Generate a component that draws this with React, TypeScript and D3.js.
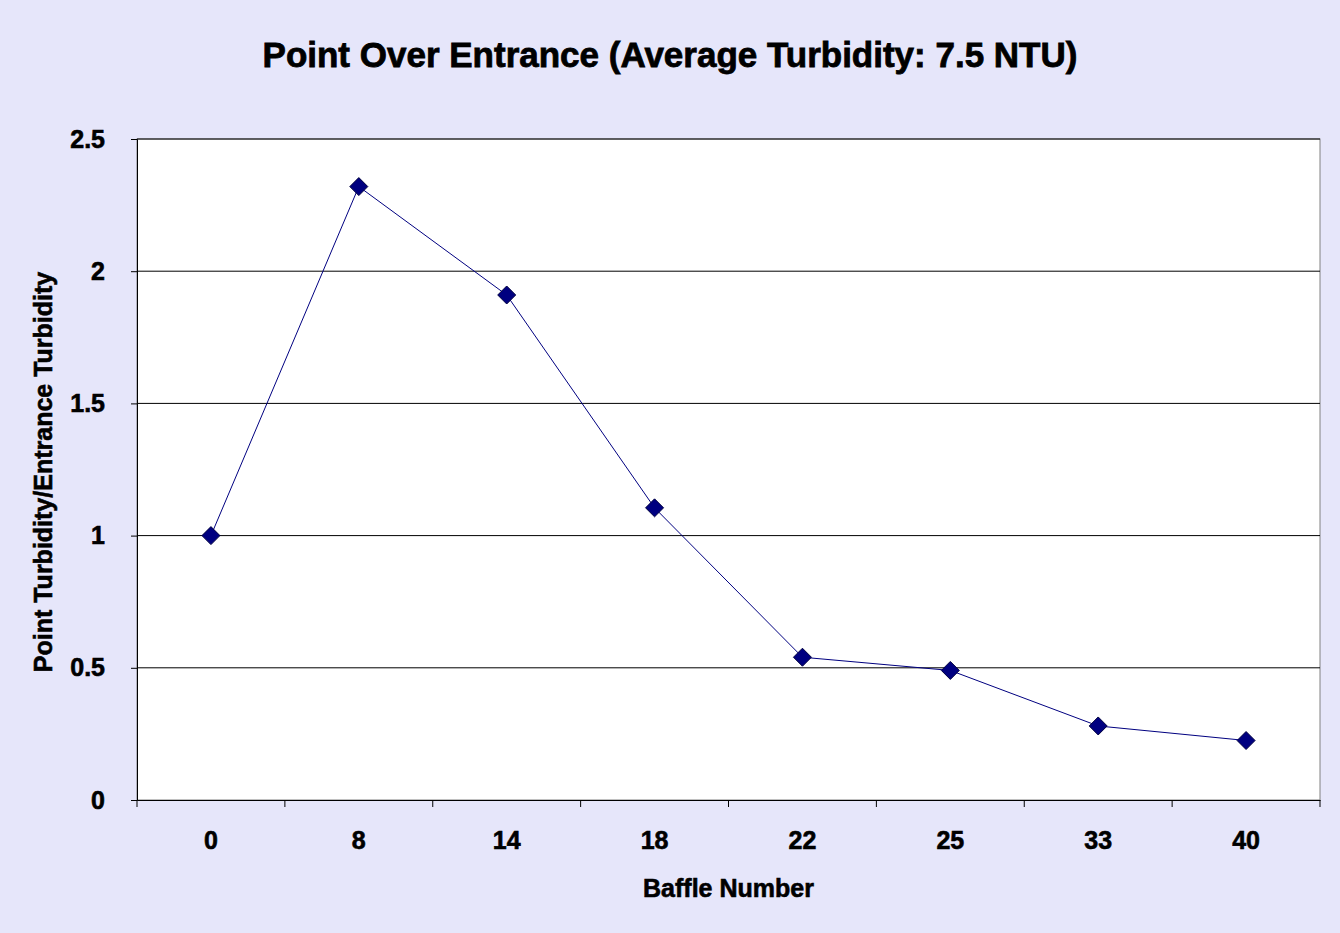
import { useEffect, useRef } from 'react';
import * as d3 from 'd3';

const baffles = ['0', '8', '14', '18', '22', '25', '33', '40'];
const ratios = [1.0, 2.32, 1.91, 1.105, 0.54, 0.49, 0.28, 0.225];
const yTicks = [0, 0.5, 1, 1.5, 2, 2.5];

export default function App() {
  const svgRef = useRef<SVGSVGElement>(null);

  useEffect(() => {
    if (!svgRef.current) return;
    const svg = d3.select(svgRef.current);
    svg.selectAll('*').remove();

    const width = 1340;
    const height = 933;
    const margin = { top: 139, right: 20, bottom: 133, left: 137 };
    const innerWidth = width - margin.left - margin.right;
    const innerHeight = height - margin.top - margin.bottom;
    const font = 'Liberation Sans, Arial, sans-serif';

    svg.append('rect').attr('width', width).attr('height', height).attr('fill', '#e6e6fa');

    svg.append('text')
      .attr('x', 670).attr('y', 67)
      .attr('text-anchor', 'middle')
      .attr('stroke', '#000').attr('stroke-width', 0.8)
      .style('font-family', font).style('font-size', '35px').style('font-weight', 'bold')
      .text('Point Over Entrance (Average Turbidity: 7.5 NTU)');

    const g = svg.append('g').attr('transform', `translate(${margin.left},${margin.top})`);

    const x = d3.scaleBand().domain(baffles).range([0, innerWidth]);
    const y = d3.scaleLinear().domain([0, 2.5]).range([innerHeight, 0]);

    g.append('rect').attr('width', innerWidth).attr('height', innerHeight)
      .attr('fill', '#ffffff').attr('stroke', '#808080');

    // gridlines
    g.selectAll('.grid').data(yTicks.slice(1)).enter().append('line')
      .attr('x1', 0).attr('x2', innerWidth)
      .attr('y1', d => y(d)).attr('y2', d => y(d))
      .attr('stroke', '#000');

    const styleText = (sel: any) => sel
      .style('font-family', font).style('font-size', '25px').style('font-weight', 'bold')
      .attr('fill', '#000').attr('stroke', '#000').attr('stroke-width', 0.6);

    // axes
    const yAxis = g.append('g')
      .call(d3.axisLeft(y).tickValues(yTicks).tickSize(6).tickPadding(26).tickFormat(d => `${d}`));
    styleText(yAxis.selectAll('text'));
    yAxis.select('.domain').attr('stroke', '#000');

    const xAxis = g.append('g').attr('transform', `translate(0,${innerHeight})`)
      .call(d3.axisBottom(x).tickSize(0).tickPadding(31));
    styleText(xAxis.selectAll('text'));
    xAxis.select('.domain').attr('stroke', '#000');
    g.selectAll('.xtick').data(baffles.concat([''])).enter().append('line')
      .attr('x1', (_, i) => i * x.step()).attr('x2', (_, i) => i * x.step())
      .attr('y1', innerHeight).attr('y2', innerHeight + 7)
      .attr('stroke', '#000');

    const cx = (i: number) => (x(baffles[i]) as number) + x.bandwidth() / 2;

    g.append('path').datum(ratios)
      .attr('fill', 'none').attr('stroke', '#000080').attr('stroke-width', 1)
      .attr('d', d3.line<number>().x((_, i) => cx(i)).y(d => y(d)));

    g.selectAll('.pt').data(ratios).enter().append('path')
      .attr('transform', (d, i) => `translate(${cx(i)},${y(d)})`)
      .attr('d', 'M0,-9L9,0L0,9L-9,0Z')
      .attr('fill', '#000080').attr('stroke', '#000040');

    styleText(svg.append('text')
      .attr('x', margin.left + innerWidth / 2).attr('y', 897)
      .attr('text-anchor', 'middle')
      .text('Baffle Number'));

    styleText(svg.append('text')
      .attr('transform', `translate(52,472) rotate(-90)`)
      .attr('text-anchor', 'middle')
      .text('Point Turbidity/Entrance Turbidity'));
  }, []);

  return (
    <svg ref={svgRef} width="1340" height="933" style={{ position: 'absolute', left: 0, top: 0 }}></svg>
  );
}
